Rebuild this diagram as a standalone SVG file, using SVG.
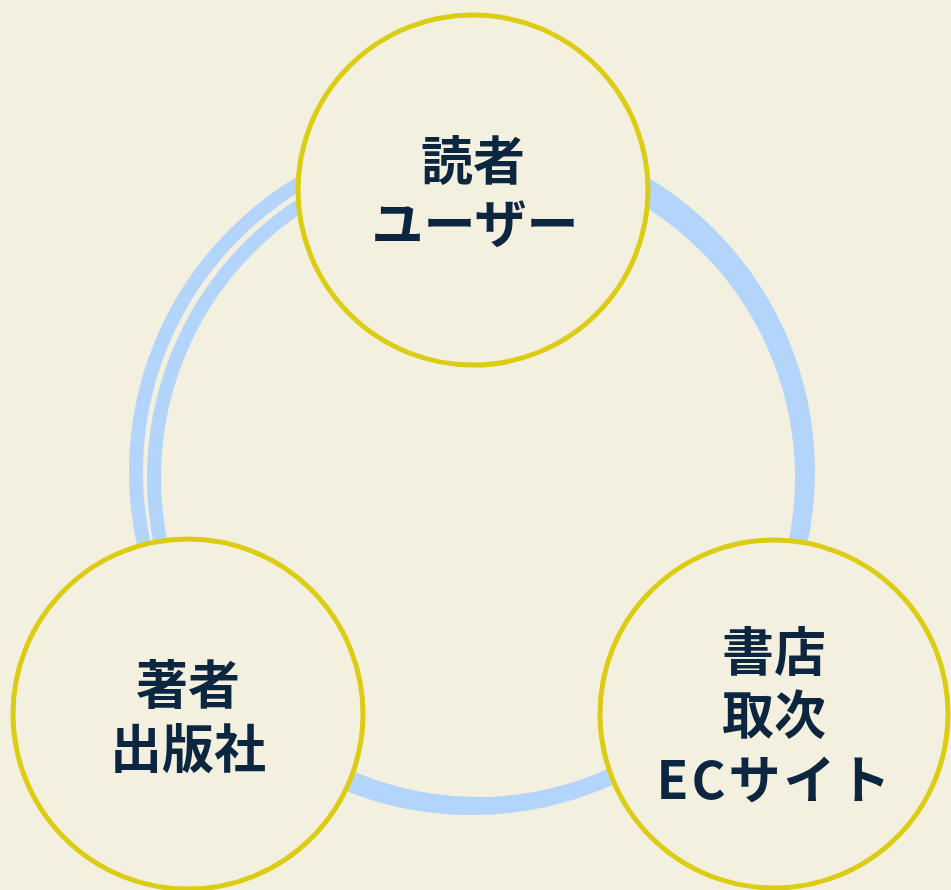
<svg xmlns="http://www.w3.org/2000/svg" width="951" height="890" viewBox="0 0 951 890">
  <style>
    .bg { fill: #f3f0e0; }
    .ring { fill: none; stroke: #b3d4fb; stroke-width: 14; }
    .node { fill: #f3f0e0; stroke: #dccd14; stroke-width: 5; }
    .label { font-family: "Noto Sans CJK JP", "Liberation Sans", sans-serif; font-weight: bold; font-size: 52px; fill: #0d2640; text-anchor: middle; }
  </style>
  <rect class="bg" x="0" y="0" width="951" height="890"/>
  <g id="connectors">
    <ellipse class="ring" cx="472" cy="472" rx="336" ry="336"/>
    <ellipse class="ring" cx="478" cy="478" rx="324" ry="326"/>
  </g>
  <g id="node-reader">
    <circle class="node" cx="473" cy="190" r="175"/>
    <text class="label" x="473" y="180">読者</text>
    <text class="label" x="475" y="243">ユーザー</text>
  </g>
  <g id="node-author">
    <circle class="node" cx="188" cy="714" r="175"/>
    <text class="label" x="188" y="704">著者</text>
    <text class="label" x="188" y="768">出版社</text>
  </g>
  <g id="node-store">
    <circle class="node" cx="774" cy="714" r="174"/>
    <text class="label" x="774" y="671">書店</text>
    <text class="label" x="774" y="734">取次</text>
    <text class="label" x="775" y="799" letter-spacing="3">ECサイト</text>
  </g>
</svg>
